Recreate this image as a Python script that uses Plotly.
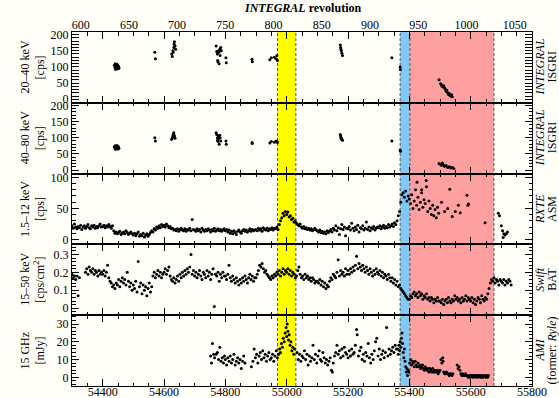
import plotly.graph_objects as go
from plotly.subplots import make_subplots

# ---------------- data ----------------
# INTEGRAL ISGRI 20-40 keV (MJD, cps)
isgri_lo_mjd = [54438, 54440, 54441, 54442, 54443, 54444, 54445, 54446, 54447, 54448, 54449, 54450, 54451, 54452, 54453,
                54570, 54572, 54625, 54627, 54629, 54630, 54632, 54633, 54634, 54636, 54638,
                54770, 54772, 54774, 54775, 54776, 54778, 54779, 54780, 54782, 54783, 54785, 54787,
                54802, 54803, 54887, 54888, 54945, 54950, 54960, 54965, 54968, 54970,
                55175, 55176, 55177, 55178, 55180, 55182, 55343, 55370, 55371,
                55497, 55502, 55505, 55507, 55510, 55512, 55515, 55518, 55520, 55522, 55525, 55528, 55530, 55532, 55535, 55538, 55540]
isgri_lo_cps = [105, 98, 110, 92, 100, 106, 95, 102, 108, 97, 100, 94, 103, 99, 96,
                145, 125, 140, 132, 150, 145, 160, 170, 178, 165, 155,
                165, 148, 140, 120, 115, 150, 145, 110, 155, 135, 160, 150,
                128, 113, 124, 116, 122, 128, 130, 125, 135, 120,
                168, 160, 155, 150, 142, 135, 128, 100, 92,
                60, 48, 45, 40, 38, 42, 35, 30, 25, 28, 20, 15, 18, 12, 10, 14, 8]

# INTEGRAL ISGRI 40-80 keV (MJD, cps)
isgri_hi_mjd = [54438, 54440, 54441, 54442, 54443, 54444, 54445, 54446, 54447, 54448, 54449, 54450, 54451, 54452, 54453,
                54570, 54572, 54625, 54627, 54629, 54630, 54632, 54633, 54634, 54636,
                54770, 54772, 54774, 54775, 54776, 54778, 54779, 54780, 54782, 54783, 54785,
                54802, 54803, 54887, 54888, 54945, 54950, 54960, 54965, 54968, 54970,
                55175, 55176, 55177, 55178, 55180, 55182, 55343, 55370, 55371,
                55497, 55500, 55505, 55508, 55510, 55515, 55520, 55525, 55530, 55535, 55540, 55545]
isgri_hi_cps = [72, 68, 75, 64, 70, 74, 66, 71, 76, 69, 70, 65, 73, 68, 67,
                100, 90, 95, 100, 105, 110, 115, 108, 104, 98,
                115, 110, 100, 92, 88, 105, 98, 80, 108, 100, 90,
                90, 80, 85, 82, 84, 88, 86, 90, 88, 85,
                110, 105, 100, 98, 95, 92, 90, 62, 58,
                20, 18, 15, 22, 16, 12, 14, 8, 10, 6, 9, 5]

# RXTE ASM 1.5-12 keV, 4-day cadence starting at MJD 54300 (cps)
asm_start = 54300
asm_step = 4
asm_cps = [
    22, 18, 25, 20, 17, 21, 19, 23, 16, 20, 22, 18, 21, 24, 19, 17, 22, 20, 23, 18, 21, 19, 22, 25, 20,
    21, 23, 19, 22, 20, 24, 21, 18, 22, 14, 10, 12, 9, 11, 13, 8, 10, 12, 9, 14, 11, 8, 10, 12, 9,
    7, 10, 6, 9, 12, 5, 8, 6, 10, 4, 7, 9, 5, 8, 11, 14, 12, 17, 15, 20, 18, 22, 19, 24, 21,
    23, 20, 25, 22, 19, 21, 17, 18, 15, 16, 14, 17, 13, 16, 18, 15, 14, 17, 13, 16, 15, 18, 14, 32, 16,
    15, 13, 17, 14, 16, 12, 18, 15, 13, 16, 14, 17, 15, 12, 16, 14, 18, 13, 15, 17, 14, 16, 13, 15, 17,
    14, 16, 12, 15, 10, 13, 9, 14, 11, 8, 13, 15, 12, 10, 14, 16, 13, 15, 12, 14, 17, 13, 16, 14, 15,
    16, 14, 18, 15, 17, 13, 19, 16, 15, 18, 14, 17, 16, 19, 15, 18, 17, 20, 16, 24, 30, 35, 42, 38, 45,
    40, 44, 36, 38, 32, 34, 28, 30, 26, 24, 22, 25, 20, 18, 21, 17, 19, 16, 18, 15, 17, 14, 16, 18, 15,
    14, 12, 15, 11, 13, 10, 12, 9, 14, 11, 13, 16, 12, 18, 15, 22, 14, 19, 8, 17, 24, 16, 20, 6, 18,
    17, 21, 15, 26, 18, 14, 20, 16, 23, 12, 19, 17, 22, 15, 18, 28, 16, 20, 14, 19, 17, 21, 15, 18, 20,
    19, 22, 17, 20, 23, 18, 21, 19, 24, 20, 22, 25, 21, 27, 24, 30, 38, 45, 60, 72, 75, 68, 78, 62, 70,
    65, 58, 72, 50, 62, 80, 55, 68, 48, 60, 75, 52, 64, 58, 85, 45, 62, 50, 40, 55, 38, 48, 35, 52, 42,
]
# sparse ASM points after MJD 55500
asm_extra_mjd = [55425, 55440, 55455, 55505, 55515, 55525, 55532, 55540, 55550, 55560, 55566, 55588, 55591, 55593, 55647,
                 55690, 55694, 55700, 55704, 55706, 55708, 55712, 55716, 55720]
asm_extra_cps = [92, 80, 95, 60, 45, 50, 81, 37, 45, 55, 43, 71, 55, 57, 27,
                 42, 38, 22, 14, 3, 9, 7, 9, 12]

# Swift BAT 15-50 keV, 4-day cadence starting at MJD 54300 (cps/cm^2)
bat_start = 54300
bat_step = 4
bat_rate = [
    0.19, 0.17, 0.18, 0.16, 0.18, 0.07, 0.17, None, None, None, None, 0.20, 0.22, 0.19, 0.23, 0.21, 0.20, 0.22, 0.19, 0.21, 0.20, 0.18, 0.21, 0.19, 0.20,
    0.19, 0.21, 0.18, 0.20, 0.24, 0.17, 0.15, 0.14, 0.12, 0.13, 0.11, 0.14, 0.13, 0.16, 0.12, 0.15, 0.17, 0.14, 0.16, 0.13, 0.20, 0.15, 0.12, 0.14, 0.10,
    0.13, 0.11, 0.15, 0.09, 0.26, 0.12, 0.14, 0.08, 0.13, 0.10, 0.12, 0.07, 0.11, 0.14, 0.09, 0.12, 0.18, 0.20, 0.17, 0.19, 0.21, 0.18, 0.20, 0.17, 0.19,
    0.20, 0.22, 0.19, 0.21, 0.23, 0.18, 0.16, 0.15, 0.17, 0.14, 0.16, 0.18, 0.15, 0.19, 0.17, 0.20, 0.18, 0.21, 0.19, 0.22, 0.20, 0.23, 0.30, 0.19, 0.21,
    0.18, 0.20, 0.17, 0.19, 0.21, 0.18, 0.16, 0.20, 0.19, 0.17, 0.21, 0.18, 0.20, 0.16, 0.19, 0.22, 0.01, 0.19, 0.18, 0.20, 0.15, 0.19, 0.17, 0.20, 0.18,
    0.18, 0.16, 0.19, 0.24, 0.17, 0.15, 0.18, 0.16, 0.14, 0.17, 0.15, 0.13, 0.16, 0.14, 0.17, 0.15, 0.18, 0.16, 0.14, 0.17, 0.19, 0.16, 0.18, 0.15, 0.17,
    0.17, 0.19, 0.21, 0.24, 0.23, 0.25, 0.22, 0.20, 0.21, 0.19, 0.18, 0.17, 0.16, 0.18, 0.17, 0.19, 0.18, 0.20, 0.19, 0.21, 0.18, 0.20, 0.22, 0.19, 0.21,
    0.20, 0.22, 0.19, 0.21, 0.18, 0.20, 0.19, 0.17, 0.18, 0.21, 0.23, 0.19, 0.17, 0.18, 0.16, 0.19, 0.17, 0.18, 0.16, 0.17, 0.15, 0.17, 0.16, 0.14, 0.15,
    0.15, 0.14, 0.16, 0.13, 0.15, 0.12, 0.14, 0.11, 0.13, 0.12, 0.15, 0.17, 0.16, 0.19, 0.18, 0.17, 0.20, 0.27, 0.18, 0.21, 0.19, 0.20, 0.18, 0.22, 0.19,
    0.21, 0.19, 0.22, 0.20, 0.23, 0.21, 0.24, 0.29, 0.22, 0.25, 0.23, 0.21, 0.24, 0.22, 0.20, 0.23, 0.21, 0.19, 0.22, 0.20, 0.18, 0.21, 0.19, 0.22, 0.20,
    0.19, 0.21, 0.18, 0.20, 0.17, 0.19, 0.18, 0.16, 0.19, 0.17, 0.15, 0.17, 0.14, 0.16, 0.13, 0.15, 0.12, 0.13, 0.11, 0.10, 0.09, 0.08, 0.07, 0.06, 0.05,
    0.05, 0.07, 0.06, 0.08, 0.09, 0.07, 0.08, 0.06, 0.09, 0.07, 0.08, 0.05, 0.07, 0.06, 0.08, 0.05, 0.06, 0.04, 0.06, 0.05, 0.03, 0.05, 0.04, 0.06, 0.04,
    0.04, 0.03, 0.05, 0.02, 0.04, 0.05, 0.03, 0.06, 0.04, 0.03, 0.05, 0.04, 0.07, 0.05, 0.06, 0.04, 0.05, 0.03, 0.06, 0.04, 0.05, 0.07, 0.04, 0.06, 0.05,
    0.04, 0.06, 0.03, 0.05, 0.02, 0.04, 0.06, 0.05, 0.03, 0.07, 0.05, 0.04, 0.06, 0.05, 0.08, 0.11, 0.14, 0.16, 0.15, 0.17, 0.14, 0.16, 0.15, 0.13, 0.16,
    0.15, 0.14, 0.16, 0.13, 0.15, 0.14, 0.16, 0.15, 0.13,
]

# AMI 15 GHz (MJD, mJy)
ami_mjd = [54752, 54755, 54758, 54762, 54765, 54770, 54774, 54778, 54782, 54786,
           54790, 54794, 54797, 54800, 54804, 54808, 54812, 54816, 54820, 54824,
           54828, 54832, 54836, 54840, 54844, 54848, 54852, 54856, 54860, 54864,
           54885, 54890, 54894, 54898, 54902, 54906, 54910, 54914, 54918, 54922,
           54926, 54930, 54934, 54938, 54942, 54946, 54950, 54954, 54958, 54962,
           54966, 54970,
           54974, 54977, 54980, 54983, 54986, 54989, 54992, 54995, 54998, 55000,
           55002, 55004, 55006, 55008, 55011, 55014, 55017, 55020, 55023, 55026,
           55034, 55038, 55042, 55046, 55050, 55054, 55058, 55062, 55066, 55070,
           55074, 55078, 55082, 55086, 55090, 55094, 55098, 55102, 55106, 55110,
           55114, 55118, 55122, 55126, 55130, 55134, 55138, 55142, 55146, 55149,
           55152, 55156, 55160, 55164, 55168, 55172, 55176, 55180, 55184, 55188,
           55192, 55196, 55200, 55204, 55208, 55212, 55216, 55220, 55224, 55228,
           55230, 55234, 55238, 55242, 55246, 55250, 55254, 55258, 55262, 55266,
           55270, 55274, 55278, 55282, 55286, 55290, 55294, 55298, 55302, 55306,
           55310, 55314, 55318, 55322, 55326, 55330, 55334, 55338, 55342, 55346,
           55350, 55354, 55358,
           55362, 55364, 55366, 55368, 55370, 55372, 55374, 55376, 55378, 55380,
           55382, 55384, 55386, 55388, 55390, 55392, 55394, 55396,
           55398, 55401, 55404, 55407, 55410, 55413, 55416, 55419, 55422, 55425,
           55428, 55431, 55434, 55437, 55440, 55443, 55446, 55449, 55452, 55455,
           55458, 55461, 55464, 55467, 55470, 55473, 55476, 55479, 55482, 55485,
           55488, 55491, 55494, 55497, 55500, 55503, 55506, 55509, 55510, 55512,
           55515, 55518, 55521, 55524, 55527, 55530, 55533, 55536, 55539, 55542,
           55556, 55559, 55562, 55565, 55568, 55571, 55574, 55577, 55580, 55583,
           55586, 55589, 55592, 55595, 55598, 55601, 55604, 55607, 55610, 55613,
           55616, 55619, 55622, 55625, 55628, 55631, 55634, 55637, 55640, 55643,
           55646, 55649, 55652, 55655, 55658]
ami_mjy = [12, 8, 19, 13, 11, 13, 14, 10, 17, 9,
           11, 8, 12, 10, 7, 11, 9, 12, 8, 10,
           13, 7, 9, 11, 8, 10, 5, 9, 12, 8,
           6, 9, 16, 11, 13, 8, 12, 14, 10, 15,
           11, 13, 9, 12, 14, 10, 11, 13, 9, 12,
           15, 11,
           13, 16, 14, 19, 17, 22, 20, 25, 28, 23,
           30, 26, 21, 24, 18, 20, 15, 17, 13, 16,
           14, 10, 13, 9, 12, 11, 15, 10, 13, 7,
           12, 9, 11, 18, 10, 13, 8, 12, 15, 10,
           9, 14, 11, 8, 10, 7, 9, 11, 4, 3,
           8, 12, 14, 18, 13, 15, 11, 16, 12, 17,
           14, 13, 11, 15, 12, 16, 13, 14, 18, 27,
           24, 12, 15, 17, 10, 13, 9, 14, 12, 19,
           11, 8, 13, 10, 15, 20, 22, 12, 16, 10,
           13, 15, 11, 14, 28, 12, 16, 13, 15, 17,
           14, 18, 16,
           16, 13, 18, 15, 20, 17, 22, 25, 19, 14,
           11, 16, 9, 6, 3, 5, 1, 4,
           3, 8, 10, 7, 9, 8, 6, 9, 7, 6,
           8, 6, 7, 5, 6, 7, 5, 4, 6, 5,
           4, 5, 3, 5, 4, 3, 5, 3, 4, 3,
           3, 4, 2, 3, 4, 10, 8, 11, 9, 3,
           2, 2, 3, 2, 2, 1, 2, 2, 1, 2,
           7, 5, 6, 4, 2, 1, 2, 1, 1, 2,
           1, 1, 0, 1, 0, 1, 1, 0, 1, 1,
           0, 1, 1, 0, 1, 1, 0, 1, 0, 1,
           1, 0, 1, 0, 1]

# spectral-state intervals (MJD)
yellow_state = [54970, 55030]
blue_state = [55370, 55402]
pink_state = [55402, 55676]

# axis labels (two lines each)
left_line1 = ["20–40 keV", "40–80 keV", "1.5–12 keV", "15–50 keV", "15 GHz"]
left_line2 = ["[cps]", "[cps]", "[cps]", "[cps/cm<sup>2</sup>]", "[mJy]"]
right_line1 = ["<i>INTEGRAL</i>", "<i>INTEGRAL</i>", "<i>RXTE</i>", "<i>Swift</i>", "<i>AMI</i>"]
right_line2 = ["ISGRI", "ISGRI", "ASM", "BAT", "(former: <i>Ryle</i>)"]
rev_ticks = [600, 650, 700, 750, 800, 850, 900, 950, 1000, 1050]
mjd_range = [54300, 55800]
rev_range = [591, 1068]

# ---------------- figure ----------------
FONT = "Liberation Serif"
BG = "#fffff8"
W, H = 559, 398
L, R, T, B = 72, 27, 32, 12
PW = W - L - R

fig = make_subplots(rows=5, cols=1, shared_xaxes=True, vertical_spacing=0)

mk = dict(color="black", size=3)
asm_mjd = [asm_start + asm_step * i for i in range(len(asm_cps))]
bat_mjd = [bat_start + bat_step * i for i in range(len(bat_rate))]

fig.add_trace(go.Scatter(x=isgri_lo_mjd, y=isgri_lo_cps, mode="markers", marker=mk), row=1, col=1)
fig.add_trace(go.Scatter(x=isgri_hi_mjd, y=isgri_hi_cps, mode="markers", marker=mk), row=2, col=1)
fig.add_trace(go.Scatter(x=asm_mjd, y=asm_cps, mode="markers", marker=mk), row=3, col=1)
fig.add_trace(go.Scatter(x=asm_extra_mjd, y=asm_extra_cps, mode="markers", marker=mk), row=3, col=1)
fig.add_trace(go.Scatter(x=bat_mjd, y=bat_rate, mode="markers", marker=mk), row=4, col=1)
fig.add_trace(go.Scatter(x=ami_mjd, y=ami_mjy, mode="markers", marker=mk), row=5, col=1)

# shaded intervals
shapes = []
for (x0, x1), col in [(yellow_state, "#ffff00"), (blue_state, "#82c8f5"), (pink_state, "#ffa0a0")]:
    shapes.append(dict(type="rect", xref="x", yref="paper", x0=x0, x1=x1, y0=0, y1=1,
                       fillcolor=col, line=dict(width=0), layer="below"))
for xv in sorted(set(yellow_state + blue_state + pink_state)):
    shapes.append(dict(type="line", xref="x", yref="paper", x0=xv, x1=xv, y0=0, y1=1,
                       line=dict(color="#555555", width=1, dash="3px,2px"), layer="below"))

tickfont = dict(family=FONT, size=12, color="black")
common_axis = dict(showline=True, linecolor="black", linewidth=1, mirror="allticks",
                   ticks="inside", tickcolor="black", showgrid=False, zeroline=False,
                   tickfont=tickfont)

for r in range(1, 6):
    fig.update_xaxes(range=mjd_range, tick0=54400, dtick=200, ticklen=7, tickformat="d",
                     minor=dict(ticks="inside", dtick=50, ticklen=3.5, tickcolor="black", showgrid=False),
                     **common_axis, row=r, col=1)
fig.update_xaxes(ticklabelstandoff=-5, row=5, col=1)

yspecs = [
    dict(range=[-11, 208], tick0=0, dtick=50, minor=dict(dtick=10)),
    dict(range=[-11, 208], tick0=0, dtick=50, minor=dict(dtick=10)),
    dict(range=[-8, 106], tick0=0, dtick=50, minor=dict(dtick=10)),
    dict(range=[-0.039, 0.356], tick0=0, dtick=0.1, minor=dict(dtick=0.02)),
    dict(range=[-4.9, 35], tick0=0, dtick=10, minor=dict(dtick=2)),
]
for r, ys in enumerate(yspecs, start=1):
    mn = dict(ticks="inside", ticklen=3.5, tickcolor="black", showgrid=False)
    mn.update(ys.pop("minor"))
    fig.update_yaxes(ticklen=7, minor=mn, **ys, **common_axis, row=r, col=1)

# INTEGRAL revolution axis on top
fig.add_trace(go.Scatter(x=[rev_ticks[0]], y=[0], mode="markers", marker=dict(opacity=0),
                         xaxis="x6", yaxis="y", hoverinfo="skip", showlegend=False))
fig.update_layout(xaxis6=dict(overlaying="x", anchor="y", side="top", range=rev_range,
                              tickvals=rev_ticks, ticks="", showline=False, showgrid=False,
                              zeroline=False, tickfont=tickfont))

annotations = []
lab_font = dict(family=FONT, size=12, color="black")
for i in range(5):
    yc = 1 - (i + 0.5) / 5
    for txt, xpx in [(left_line1[i], 25), (left_line2[i], 40), (right_line1[i], 540), (right_line2[i], 552)]:
        annotations.append(dict(text=txt, xref="paper", yref="paper", x=(xpx - L) / PW, y=yc,
                                textangle=-90, showarrow=False, xanchor="center", yanchor="middle",
                                font=lab_font))
annotations.append(dict(text="<b><i>INTEGRAL</i> revolution</b>", xref="paper", yref="paper",
                        x=0.5, y=1 + (T - 8) / (H - T - B), showarrow=False,
                        xanchor="center", yanchor="middle", font=lab_font))

fig.update_layout(width=W, height=H, margin=dict(l=L, r=R, t=T, b=B, pad=0),
                  paper_bgcolor=BG, plot_bgcolor=BG, showlegend=False,
                  shapes=shapes, annotations=annotations)
for ax in ["xaxis", "xaxis2", "xaxis3", "xaxis4", "xaxis5", "yaxis", "yaxis2", "yaxis3", "yaxis4", "yaxis5"]:
    fig.layout[ax].automargin = False
fig.layout.xaxis6.automargin = False

fig.write_html("out.html", config={"displayModeBar": False},
               post_script="document.body.style.margin='0';document.body.style.padding='0';"
                           "document.body.style.overflow='hidden';")
